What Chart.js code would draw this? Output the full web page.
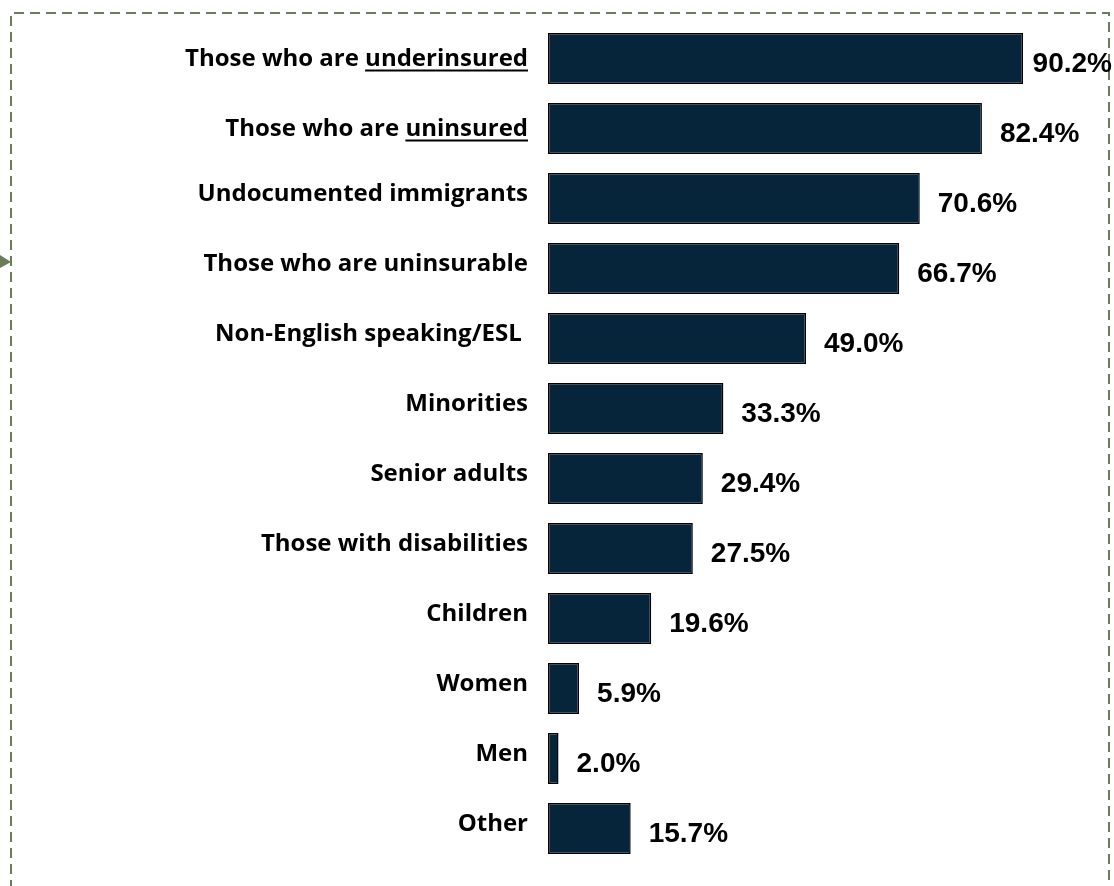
<!DOCTYPE html>
<html>
<head>
<meta charset="utf-8">
<script src="https://cdn.jsdelivr.net/npm/chart.js@4/dist/chart.umd.min.js"></script>
<style>
  html, body { margin: 0; padding: 0; background: #ffffff; }
  #wrap { width: 1114px; height: 886px; position: relative; }
</style>
</head>
<body>
<div id="wrap"><canvas id="chart" width="1114" height="886"></canvas></div>
<script>
// Groups named by respondents, with the share choosing each one
const categories = [
  'Those who are underinsured',
  'Those who are uninsured',
  'Undocumented immigrants',
  'Those who are uninsurable',
  'Non-English speaking/ESL ',
  'Minorities',
  'Senior adults',
  'Those with disabilities',
  'Children',
  'Women',
  'Men',
  'Other'
];
// Trailing word of a label that is shown underlined ('' = none)
const underlinedWords = ['underinsured', 'uninsured', '', '', '', '', '', '', '', '', '', ''];
const percentValues = [90.2, 82.4, 70.6, 66.7, 49.0, 33.3, 29.4, 27.5, 19.6, 5.9, 2.0, 15.7];

const LABEL_FONT = 'bold 24px "Open Sans", Lato, sans-serif';
const VALUE_FONT = 'bold 28px "Liberation Sans", Arial, sans-serif';
const FRAME_COLOR = '#6b7c5c';

// Dashed frame around the figure and the small pointer on its left edge
const framePlugin = {
  id: 'frame',
  beforeDraw(chart) {
    const ctx = chart.ctx;
    ctx.save();
    ctx.strokeStyle = FRAME_COLOR;
    ctx.lineWidth = 2;
    ctx.setLineDash([10, 6]);
    ctx.beginPath();
    ctx.moveTo(11, 890);
    ctx.lineTo(11, 13);
    ctx.lineTo(1109, 13);
    ctx.lineTo(1109, 890);
    ctx.stroke();
    ctx.setLineDash([]);
    ctx.fillStyle = FRAME_COLOR;
    ctx.beginPath();
    ctx.moveTo(0, 255);
    ctx.lineTo(11, 262);
    ctx.lineTo(0, 268);
    ctx.closePath();
    ctx.fill();
    ctx.restore();
  }
};

// Category names to the left of the bars, and percentages to the right
const labelPlugin = {
  id: 'barLabels',
  afterDatasetsDraw(chart) {
    const ctx = chart.ctx;
    const yScale = chart.scales.y;
    const xScale = chart.scales.x;
    const meta = chart.getDatasetMeta(0);
    ctx.save();
    ctx.fillStyle = '#000000';
    ctx.strokeStyle = '#000000';
    ctx.textAlign = 'right';
    ctx.textBaseline = 'alphabetic';
    ctx.font = LABEL_FONT;
    const rightEdge = chart.chartArea.left - 20;
    categories.forEach((label, i) => {
      const yc = yScale.getPixelForTick(i);
      const word = underlinedWords[i];
      const base = yc + (word ? 7 : 2);
      ctx.fillText(label, rightEdge, base);
      if (word) {
        const w = ctx.measureText(word).width;
        ctx.lineWidth = 2;
        ctx.beginPath();
        ctx.moveTo(rightEdge - w, base + 5);
        ctx.lineTo(rightEdge, base + 5);
        ctx.stroke();
      }
    });
    ctx.font = VALUE_FONT;
    ctx.textAlign = 'left';
    meta.data.forEach((bar, i) => {
      const txt = percentValues[i].toFixed(1) + '%';
      const w = ctx.measureText(txt).width;
      const end = xScale.getPixelForValue(percentValues[i]);
      let x = end + 18;
      if (x + w > chart.width - 2) x = chart.width - 2 - w;
      ctx.fillText(txt, x, bar.y + 13);
    });
    ctx.restore();
  }
};

new Chart(document.getElementById('chart'), {
  type: 'bar',
  data: {
    labels: categories,
    datasets: [{
      data: percentValues,
      backgroundColor: '#06243a',
      borderColor: '#000000',
      borderWidth: 1.5,
      borderSkipped: false,
      barPercentage: 0.73,
      categoryPercentage: 1.0
    }]
  },
  options: {
    indexAxis: 'y',
    responsive: false,
    animation: false,
    layout: { padding: { left: 548, right: 39.4, top: 23.5, bottom: 22.5 } },
    plugins: { legend: { display: false }, tooltip: { enabled: false } },
    scales: {
      x: { display: false, min: 0, max: 100 },
      y: { display: false }
    }
  },
  plugins: [framePlugin, labelPlugin]
});
</script>
</body>
</html>
